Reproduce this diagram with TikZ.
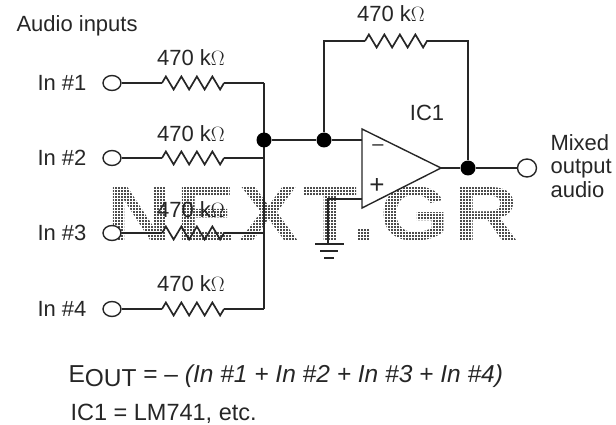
\documentclass[tikz,border=0pt]{standalone}
\usepackage{fontspec}
\setmainfont{Liberation Sans}
\usetikzlibrary{decorations.pathmorphing}
\usetikzlibrary{shapes.geometric}
\definecolor{ink}{HTML}{262626}
\tikzset{
  wire/.style={ink, line width=2pt},
  res/.style={ink, line width=1.7pt, decorate, decoration={zigzag, segment length=15.5pt, amplitude=6.5pt}},
  term/.style={draw=ink, line width=1.4pt, fill=white, ellipse, inner sep=0pt, minimum width=18pt, minimum height=15pt},
  dot/.style={circle, fill=black, inner sep=0pt, minimum size=15pt},
  lbl/.style={ink, font=\fontsize{22}{24}\selectfont}
}
\begin{document}
\begin{tikzpicture}[x=1pt, y=-1pt]
\useasboundingbox (0,0) rectangle (616,425);
% watermark
\node [xscale=1.15, text=black!70, font=\fontsize{77}{77}\selectfont\bfseries\addfontfeatures{LetterSpace=5}] (mark) at (313,214) {NEXT.GR};
\draw [white, line width=0.85pt, xstep=3pt, ystep=3pt] (100,175) grid (525,250);
% inputs
\node [lbl, anchor=west] (title) at (13,26) {Audio inputs};
\foreach \i/\y/\ly in {1/83/58, 2/158/134, 3/233/210, 4/309/284} {
  \node [term] (in\i) at (112,\y) {};
  \node [lbl, anchor=east] (name\i) at (90,\y) {In \#\i};
  \node [lbl] (val\i) at (191,\ly) {470 k$\Omega$};
  \coordinate (ra\i) at (162,\y);
  \coordinate (rb\i) at (224,\y);
  \coordinate (bus\i) at (264,\y);
  \draw [wire] (in\i) -- (ra\i);
  \draw [res] (ra\i) -- (rb\i);
  \draw [wire] (rb\i) -- (bus\i);
}
\draw [wire] (bus1) -- (bus4);
% summing node
\node [dot] (sum) at (264,140) {};
\node [dot] (fbk) at (324,140) {};
\coordinate (minus) at (362,140);
\draw [wire] (sum) -- (fbk) -- (minus);
% op amp
\coordinate (tl) at (362,129);
\coordinate (bl) at (362,208);
\coordinate (tip) at (441,168);
\draw [wire, line width=1.4pt] (tl) -- (bl) -- (tip) -- cycle;
\node [lbl, font=\fontsize{20}{20}\selectfont] (neg) at (378,148) {--};
\node [lbl, font=\fontsize{26}{26}\selectfont] (pos) at (377,186) {+};
\node [lbl] (ic) at (427,113) {IC1};
% feedback
\node [lbl] (valf) at (391,14) {470 k$\Omega$};
\coordinate (fa) at (324,41);
\coordinate (fra) at (365,41);
\coordinate (frb) at (428,41);
\coordinate (fb) at (468,41);
\node [dot] (out) at (468,168) {};
\draw [wire] (fbk) -- (fa) -- (fra);
\draw [res] (fra) -- (frb);
\draw [wire] (frb) -- (fb) -- (out);
\node [term, minimum width=19pt, minimum height=18pt] (outp) at (527,168) {};
\draw [wire] (tip) -- (out) -- (outp);
\node [lbl, anchor=west, align=left, font=\fontsize{22}{23.5}\selectfont] (mixed) at (547,166) {Mixed\\output\\audio};
% ground
\coordinate (plus) at (362,199);
\coordinate (gc) at (328,199);
\coordinate (g0) at (328,244);
\draw [wire] (plus) -- (gc) -- (g0);
\draw [wire] (315,244) -- (344,244);
\draw [wire] (320,251) -- (338,251);
\draw [wire] (324,258) -- (334,258);
% formula
\node [lbl, anchor=west, font=\fontsize{24.5}{26}\selectfont] (eout) at (65,376) {E\raisebox{-4pt}{OUT} = -- \textit{(In \#1 + In \#2 + In \#3 + In \#4)}};
\node [lbl, anchor=west, font=\fontsize{23.5}{26}\selectfont] (part) at (67,414) {IC1 = LM741, etc.};
\end{tikzpicture}
\end{document}
